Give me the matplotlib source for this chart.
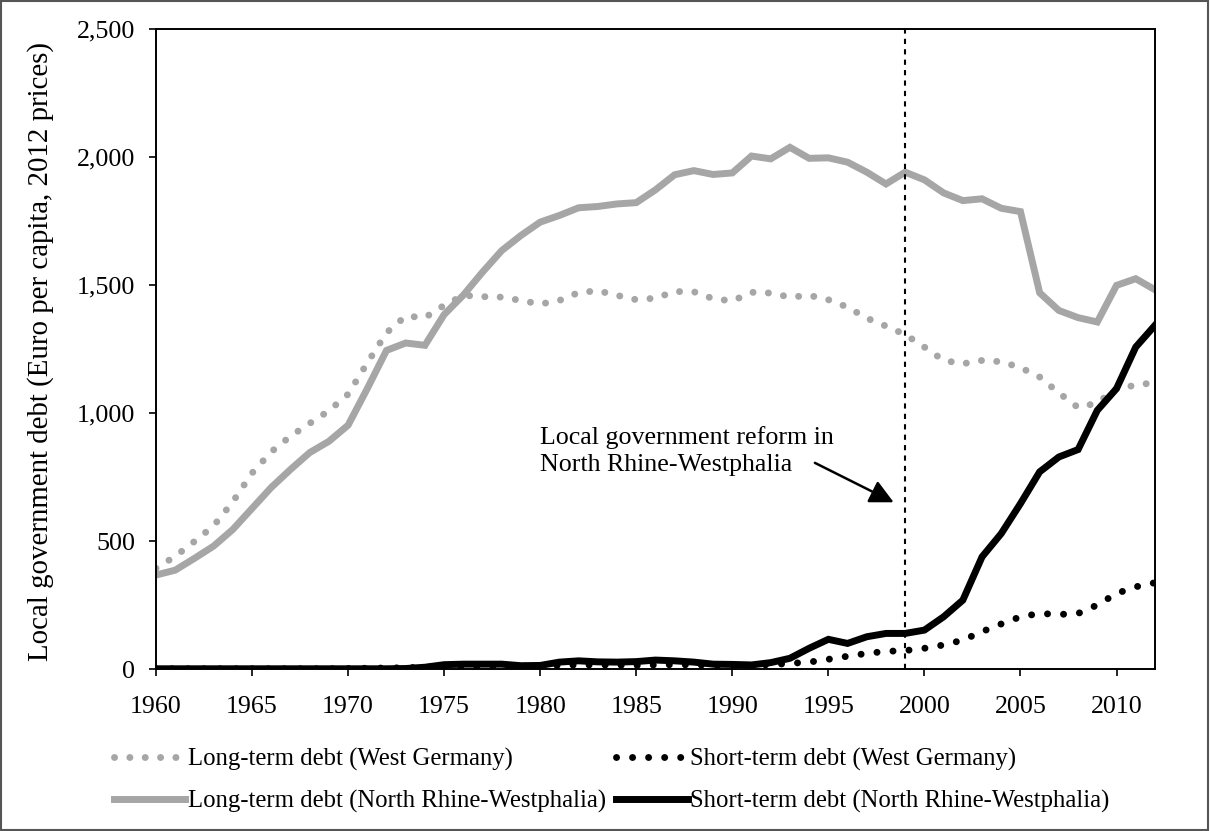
import numpy as np
import matplotlib
matplotlib.use("Agg")
import matplotlib.pyplot as plt
from matplotlib.ticker import FuncFormatter
from matplotlib.patches import Rectangle

plt.rcParams['font.family'] = ['Liberation Serif', 'DejaVu Serif']

# 데이터 (1960-2012, 유로/1인, 2012년 가격)
years = list(range(1960, 2013))

long_wg = [394, 441, 499, 560, 654, 766, 849, 910, 960, 1009,
           1074, 1196, 1314, 1379, 1373, 1421, 1460, 1455, 1453, 1440,
           1426, 1440, 1471, 1478, 1460, 1443, 1449, 1475, 1474, 1447,
           1438, 1472, 1469, 1453, 1460, 1443, 1414, 1371, 1340, 1307,
           1258, 1206, 1193, 1206, 1201, 1178, 1141, 1079, 1022, 1040,
           1096, 1109, 1120]

short_wg = [2, 2, 2, 2, 2, 2, 2, 2, 2, 2,
            3, 4, 5, 6, 8, 10, 11, 12, 13, 12,
            13, 15, 17, 17, 16, 15, 17, 18, 17, 15,
            14, 15, 18, 23, 28, 39, 51, 62, 70, 73,
            82, 95, 114, 147, 177, 205, 218, 214, 218, 251,
            296, 322, 338]

long_nrw = [368, 387, 433, 481, 546, 628, 710, 780, 846, 890,
            953, 1096, 1245, 1274, 1265, 1385, 1461, 1551, 1635, 1694,
            1746, 1772, 1802, 1807, 1817, 1822, 1872, 1931, 1947, 1932,
            1938, 2004, 1993, 2038, 1995, 1997, 1980, 1941, 1895, 1941,
            1911, 1860, 1830, 1837, 1800, 1787, 1470, 1401, 1373, 1356,
            1499, 1525, 1482]

short_nrw = [2, 2, 2, 2, 2, 2, 2, 2, 2, 2,
             2, 2, 2, 3, 8, 18, 20, 20, 20, 14,
             15, 28, 33, 29, 28, 30, 36, 33, 28, 20,
             19, 17, 26, 43, 82, 117, 101, 127, 140, 140,
             153, 205, 270, 439, 530, 647, 771, 829, 858, 1011,
             1096, 1258, 1343]

labels = ['Long-term debt (West Germany)', 'Short-term debt (West Germany)',
          'Long-term debt (North Rhine-Westphalia)', 'Short-term debt (North Rhine-Westphalia)']

reform_year = 1999
grey = '#a6a6a6'
fs = 18.7

fig = plt.figure(figsize=(12.1, 8.31), dpi=100)
ax = fig.add_axes([0.1289, 0.1946, 0.8256, 0.7705])

# 점선 (서독)
l1, = ax.plot(years, long_wg, color=grey, lw=5, linestyle=(0, (0.01, 2.2)),
              dash_capstyle='round', label=labels[0])
l2, = ax.plot(years, short_wg, color='black', lw=5, linestyle=(0, (0.01, 2.3)),
              dash_capstyle='round', label=labels[1])
# 실선 (NRW)
l3, = ax.plot(years, long_nrw, color=grey, lw=5, solid_joinstyle='miter', label=labels[2])
l4, = ax.plot(years, short_nrw, color='black', lw=5, solid_joinstyle='miter', label=labels[3])

ax.axvline(reform_year, color='black', lw=1.5, linestyle=(0, (2.5, 2.5)))

ax.text(1980.0, 948, 'Local government reform in\nNorth Rhine-Westphalia',
        ha='left', va='top', fontsize=fs, linespacing=1.25)
ax.annotate('', xy=(1998.4, 652), xytext=(1994.3, 806),
            arrowprops=dict(arrowstyle='-|>', color='black', lw=1.8,
                            mutation_scale=36, shrinkA=0, shrinkB=0))

ax.set_xlim(1960, 2012)
ax.set_ylim(0, 2500)
ax.set_xticks(range(1960, 2011, 5))
ax.set_yticks(range(0, 2501, 500))
ax.yaxis.set_major_formatter(FuncFormatter(lambda v, p: f'{v:,.0f}'))
ax.tick_params(direction='out', length=5, width=1.2, labelsize=fs)
ax.tick_params(axis='x', pad=14)
ax.tick_params(axis='y', pad=10)
for s in ax.spines.values():
    s.set_linewidth(1.4)

ax.set_ylabel('Local government debt (Euro per capita, 2012 prices)', fontsize=20.8)
ax.yaxis.set_label_coords(-0.102, 0.497)

fig.legend([l1, l3, l2, l4], [labels[0], labels[2], labels[1], labels[3]],
           ncol=2, loc='upper left', bbox_to_anchor=(0.094, 0.0999),
           frameon=False, fontsize=17.8, handlelength=2.9, handletextpad=0.1,
           columnspacing=0.4, labelspacing=0.75, borderpad=0, borderaxespad=0)

# 그림 테두리
fig.patches.append(Rectangle((0.001, 0.001), 0.997, 0.998, transform=fig.transFigure,
                             fill=False, edgecolor='#555555', lw=1.5))

fig.savefig('out.png', dpi=100)
